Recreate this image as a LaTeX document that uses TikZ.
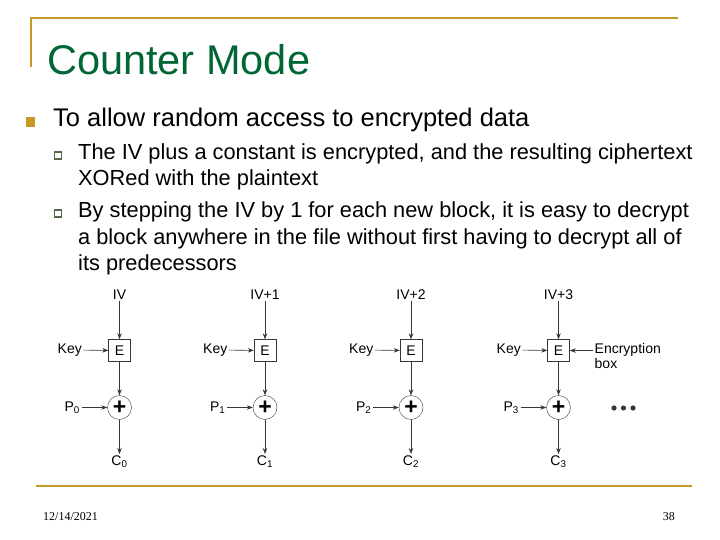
\documentclass[tikz,border=0pt]{standalone}
\usepackage{fontspec}
\setmainfont{Liberation Sans}
\newfontfamily\footfont{Liberation Serif}
\definecolor{slidegold}{RGB}{196,154,36}
\definecolor{slidegreen}{RGB}{0,102,51}
\definecolor{subbul}{RGB}{85,105,75}
\definecolor{flowgray}{RGB}{55,55,55}
\usetikzlibrary{arrows.meta,positioning}

\begin{document}
\begin{tikzpicture}[x=1pt,y=-1pt,>={Stealth[length=6pt,width=4.5pt]},
  mainbul/.style={fill=slidegold,minimum size=9.3pt,inner sep=0pt},
  subbox/.style={draw=subbul,line width=1.1pt,minimum size=7pt,inner sep=0pt},
  encbox/.style={draw=flowgray,minimum size=22pt,inner sep=0pt,font=\fontsize{14}{14}\selectfont},
  xorbox/.style={draw=flowgray,circle,minimum size=24pt,inner sep=0pt,font=\fontsize{23}{23}\selectfont},
  lbl/.style={inner sep=1.5pt,font=\fontsize{14}{14}\selectfont},
  flow/.style={->,flowgray,semithick}]
  \useasboundingbox (0,0) rectangle (720,540);
  % frame and title
  \draw[slidegold,line width=2.5pt] (31,67) -- (31,18) -- (678,18);
  \draw[slidegold,line width=2.5pt] (36,486) -- (692,486);
  \node[anchor=base west,inner sep=0pt,slidegreen,font=\fontsize{41.5}{41.5}\selectfont] (title) at (47,75) {Counter Mode};
  % bullets
  \node[mainbul] (b0) at (30.7,122) {};
  \node[anchor=base west,inner sep=0pt,font=\fontsize{25.5}{25.5}\selectfont] (t0) at (53,127) {To allow random access to encrypted data};
  \node[subbox] (b1) at (58,155.5) {};
  \node[anchor=base west,inner sep=0pt,font=\fontsize{21.8}{21.8}\selectfont] (t1) at (78,160) {The IV plus a constant is encrypted, and the resulting ciphertext};
  \node[anchor=base west,inner sep=0pt,font=\fontsize{21.8}{21.8}\selectfont] (t2) at (78,186) {XORed with the plaintext};
  \node[subbox] (b2) at (58,213.5) {};
  \node[anchor=base west,inner sep=0pt,font=\fontsize{21.8}{21.8}\selectfont] (t3) at (78,218) {By stepping the IV by 1 for each new block, it is easy to decrypt};
  \node[anchor=base west,inner sep=0pt,font=\fontsize{21.8}{21.8}\selectfont] (t4) at (78,244) {a block anywhere in the file without first having to decrypt all of};
  \node[anchor=base west,inner sep=0pt,font=\fontsize{21.8}{21.8}\selectfont] (t5) at (78,270) {its predecessors};
  % block 0
  \node[lbl,anchor=south] (iv0) at (119.5,301) {IV};
  \node[encbox] (e0) at (119.5,350.5) {E};
  \node[xorbox] (x0) at (119.5,407.5) {\textbf{+}};
  \node[lbl,anchor=east] (k0) at (83.5,350) {Key};
  \node[lbl,anchor=east] (p0) at (81.5,407.5) {P\textsubscript{0}};
  \node[lbl,anchor=north] (c0) at (119.5,454) {C\textsubscript{0}};
  \draw[flow] (iv0) -- (e0);
  \draw[flow] (k0) -- (e0);
  \draw[flow] (e0) -- (x0);
  \draw[flow] (p0) -- (x0);
  \draw[flow] (x0) -- (c0);
  % block 1
  \node[lbl,anchor=south] (iv1) at (265,301) {IV+1};
  \node[encbox] (e1) at (265,350.5) {E};
  \node[xorbox] (x1) at (265,407.5) {\textbf{+}};
  \node[lbl,anchor=east] (k1) at (229,350) {Key};
  \node[lbl,anchor=east] (p1) at (227,407.5) {P\textsubscript{1}};
  \node[lbl,anchor=north] (c1) at (265,454) {C\textsubscript{1}};
  \draw[flow] (iv1) -- (e1);
  \draw[flow] (k1) -- (e1);
  \draw[flow] (e1) -- (x1);
  \draw[flow] (p1) -- (x1);
  \draw[flow] (x1) -- (c1);
  % block 2
  \node[lbl,anchor=south] (iv2) at (411,301) {IV+2};
  \node[encbox] (e2) at (411,350.5) {E};
  \node[xorbox] (x2) at (411,407.5) {\textbf{+}};
  \node[lbl,anchor=east] (k2) at (375,350) {Key};
  \node[lbl,anchor=east] (p2) at (373,407.5) {P\textsubscript{2}};
  \node[lbl,anchor=north] (c2) at (411,454) {C\textsubscript{2}};
  \draw[flow] (iv2) -- (e2);
  \draw[flow] (k2) -- (e2);
  \draw[flow] (e2) -- (x2);
  \draw[flow] (p2) -- (x2);
  \draw[flow] (x2) -- (c2);
  % block 3
  \node[lbl,anchor=south] (iv3) at (558.5,301) {IV+3};
  \node[encbox] (e3) at (558.5,350.5) {E};
  \node[xorbox] (x3) at (558.5,407.5) {\textbf{+}};
  \node[lbl,anchor=east] (k3) at (522.5,350) {Key};
  \node[lbl,anchor=east] (p3) at (520.5,407.5) {P\textsubscript{3}};
  \node[lbl,anchor=north] (c3) at (558.5,454) {C\textsubscript{3}};
  \draw[flow] (iv3) -- (e3);
  \draw[flow] (k3) -- (e3);
  \draw[flow] (e3) -- (x3);
  \draw[flow] (p3) -- (x3);
  \draw[flow] (x3) -- (c3);
  \node[lbl,anchor=west,align=left,font=\fontsize{14}{15}\selectfont] (enc) at (593,356) {Encryption\\box};
  \draw[flow] (enc.west |- e3.east) -- (e3.east);
  \fill[flowgray] (614,408) circle (2.6) (623.5,408) circle (2.6) (633,408) circle (2.6);
  % footer
  \node[anchor=base west,inner sep=0pt,font=\footfont\fontsize{12}{12}\selectfont] (date) at (43,520) {12/14/2021};
  \node[anchor=base east,inner sep=0pt,font=\footfont\fontsize{12}{12}\selectfont] (page) at (675,520) {38};
\end{tikzpicture}
\end{document}
